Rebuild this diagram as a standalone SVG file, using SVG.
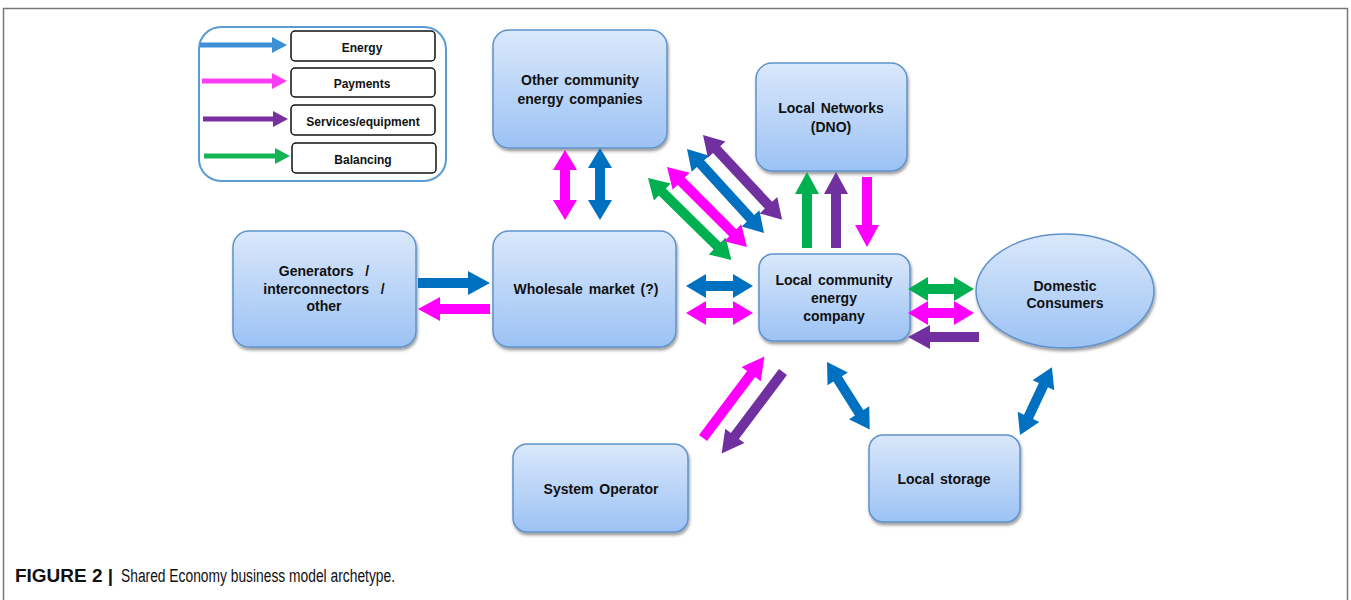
<svg xmlns="http://www.w3.org/2000/svg" width="1351" height="600" viewBox="0 0 1351 600">
<defs>
<linearGradient id="nodeFill" x1="0" y1="0" x2="0" y2="1">
<stop offset="0" stop-color="#dae8fb"/>
<stop offset="1" stop-color="#9cc2f4"/>
</linearGradient>
<filter id="shadow" x="-10%" y="-10%" width="125%" height="130%">
<feDropShadow dx="1" dy="2.5" stdDeviation="1.5" flood-color="#000" flood-opacity="0.4"/>
</filter>
</defs>
<style>
.node{fill:url(#nodeFill);stroke:#5f92cc;stroke-width:1.5;filter:url(#shadow)}
.lbl{font-family:"Liberation Sans",Arial,sans-serif;font-weight:bold;font-size:14px;fill:#111;text-anchor:middle;word-spacing:2px}
.leg{font-family:"Liberation Sans",Arial,sans-serif;font-weight:bold;font-size:12px;fill:#111;text-anchor:middle}
.legbox{fill:#fff;stroke:#111;stroke-width:1.5}
.cap{font-family:"Liberation Sans",Arial,sans-serif;font-size:18px;fill:#111}
.blue{fill:#0070c0}
.pink{fill:#ff00ff}
.purple{fill:#7030a0}
.green{fill:#00b050}
.lblue{fill:#3d8fd6}
.lpink{fill:#ff3cf5}
.lpurple{fill:#7a2f9e}
.lgreen{fill:#14b456}
</style>
<rect width="1351" height="600" fill="#fff"/>
<path d="M3.5,600 V8.5 H1347.5 V600" fill="none" stroke="#777" stroke-width="1.5"/>

<g id="legend">
<rect x="199" y="27" width="247" height="154" rx="22" fill="#fff" stroke="#5b9bd5" stroke-width="2"/>
<rect class="legbox" x="291" y="31" width="144" height="30" rx="4"/>
<rect class="legbox" x="291" y="68" width="144" height="29" rx="4"/>
<rect class="legbox" x="291" y="105" width="144" height="30" rx="4"/>
<rect class="legbox" x="292" y="143" width="144" height="30" rx="4"/>
<text class="leg" x="362" y="52">Energy</text>
<text class="leg" x="362" y="88">Payments</text>
<text class="leg" x="363" y="126">Services/equipment</text>
<text class="leg" x="363" y="164">Balancing</text>
<polygon class="lblue" transform="translate(200,45)" points="0,-2.5 72,-2.5 72,-8 87,0 72,8 72,2.5 0,2.5"/>
<polygon class="lpink" transform="translate(202,81)" points="0,-2.5 70,-2.5 70,-8 85,0 70,8 70,2.5 0,2.5"/>
<polygon class="lpurple" transform="translate(203,119)" points="0,-2.5 70,-2.5 70,-8 85,0 70,8 70,2.5 0,2.5"/>
<polygon class="lgreen" transform="translate(204,156)" points="0,-2.5 71,-2.5 71,-8 86,0 71,8 71,2.5 0,2.5"/>
</g>

<g id="node-other">
<rect class="node" x="493" y="30" width="174" height="118" rx="16"/>
<text class="lbl" x="580" y="85">Other community</text>
<text class="lbl" x="580" y="104">energy companies</text>
</g>
<g id="node-dno">
<rect class="node" x="756" y="63" width="151" height="108" rx="16"/>
<text class="lbl" x="831" y="113">Local Networks</text>
<text class="lbl" x="831" y="132">(DNO)</text>
</g>
<g id="node-generators">
<rect class="node" x="233" y="231" width="183" height="116" rx="16"/>
<text class="lbl" x="324" y="276">Generators&#160;&#160;/</text>
<text class="lbl" x="324" y="294">interconnectors&#160;&#160;/</text>
<text class="lbl" x="324" y="311">other</text>
</g>
<g id="node-wholesale">
<rect class="node" x="493" y="231" width="183" height="116" rx="16"/>
<text class="lbl" x="586" y="294">Wholesale market (?)</text>
</g>
<g id="node-local">
<rect class="node" x="759" y="254" width="151" height="87" rx="14"/>
<text class="lbl" x="834" y="285">Local community</text>
<text class="lbl" x="834" y="303">energy</text>
<text class="lbl" x="834" y="321">company</text>
</g>
<g id="node-domestic">
<ellipse class="node" cx="1065" cy="291" rx="89" ry="57"/>
<text class="lbl" x="1065" y="291">Domestic</text>
<text class="lbl" x="1065" y="308">Consumers</text>
</g>
<g id="node-system">
<rect class="node" x="513" y="444" width="175" height="88" rx="14"/>
<text class="lbl" x="601" y="494">System Operator</text>
</g>
<g id="node-storage">
<rect class="node" x="869" y="435" width="151" height="87" rx="14"/>
<text class="lbl" x="944" y="484">Local storage</text>
</g>

<g id="connectors">
<polygon class="pink" transform="translate(565,150) rotate(90)" points="0,0 20,-12 20,-5 50,-5 50,-12 70,0 50,12 50,5 20,5 20,12"/>
<polygon class="blue" transform="translate(600,148) rotate(90)" points="0,0 20,-12 20,-5 52,-5 52,-12 72,0 52,12 52,5 20,5 20,12"/>
<polygon class="green" transform="translate(648,178) rotate(44.5)" points="0,0 20,-12 20,-5 97,-5 97,-12 117,0 97,12 97,5 20,5 20,12"/>
<polygon class="pink" transform="translate(667,167) rotate(45)" points="0,0 20,-12 20,-5 93,-5 93,-12 113,0 93,12 93,5 20,5 20,12"/>
<polygon class="blue" transform="translate(687,149) rotate(47.5)" points="0,0 20,-12 20,-5 94,-5 94,-12 114,0 94,12 94,5 20,5 20,12"/>
<polygon class="purple" transform="translate(703,135) rotate(47)" points="0,0 20,-12 20,-5 96,-5 96,-12 116,0 96,12 96,5 20,5 20,12"/>
<polygon class="green" transform="translate(807,248) rotate(-90)" points="0,-5 54,-5 54,-12 76,0 54,12 54,5 0,5"/>
<polygon class="purple" transform="translate(836,248) rotate(-90)" points="0,-5 54,-5 54,-12 76,0 54,12 54,5 0,5"/>
<polygon class="pink" transform="translate(867,177) rotate(90)" points="0,-5 48,-5 48,-12 70,0 48,12 48,5 0,5"/>
<polygon class="blue" transform="translate(418,283)" points="0,-5 50,-5 50,-12 72,0 50,12 50,5 0,5"/>
<polygon class="pink" transform="translate(490,309) rotate(180)" points="0,-5 50,-5 50,-12 72,0 50,12 50,5 0,5"/>
<polygon class="blue" transform="translate(686,286)" points="0,0 20,-12 20,-5 47,-5 47,-12 67,0 47,12 47,5 20,5 20,12"/>
<polygon class="pink" transform="translate(686,313)" points="0,0 20,-12 20,-5 47,-5 47,-12 67,0 47,12 47,5 20,5 20,12"/>
<polygon class="green" transform="translate(908,289)" points="0,0 20,-12 20,-5 46,-5 46,-12 66,0 46,12 46,5 20,5 20,12"/>
<polygon class="pink" transform="translate(908,313)" points="0,0 20,-12 20,-5 46,-5 46,-12 66,0 46,12 46,5 20,5 20,12"/>
<polygon class="purple" transform="translate(979,337) rotate(180)" points="0,-5 49,-5 49,-12 71,0 49,12 49,5 0,5"/>
<polygon class="pink" transform="translate(703,438) rotate(-53)" points="0,-5 80,-5 80,-12 102,0 80,12 80,5 0,5"/>
<polygon class="purple" transform="translate(783,372) rotate(127)" points="0,-5 80,-5 80,-12 102,0 80,12 80,5 0,5"/>
<polygon class="blue" transform="translate(827,362) rotate(57.7)" points="0,0 20,-12 20,-5 60,-5 60,-12 80,0 60,12 60,5 20,5 20,12"/>
<polygon class="blue" transform="translate(1020,435) rotate(-64.8)" points="0,0 20,-12 20,-5 55,-5 55,-12 75,0 55,12 55,5 20,5 20,12"/>
</g>

<text class="cap" x="15" y="582" font-weight="bold" textLength="98" lengthAdjust="spacingAndGlyphs">FIGURE 2 |</text>
<text class="cap" x="121" y="582" textLength="274" lengthAdjust="spacingAndGlyphs">Shared Economy business model archetype.</text>
</svg>
